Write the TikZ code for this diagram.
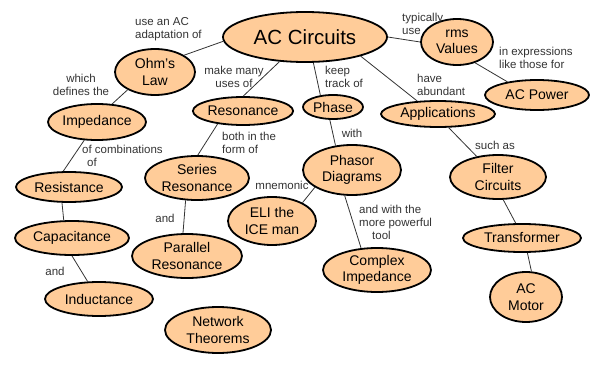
\documentclass[tikz,border=0pt]{standalone}
\usepackage{fontspec}
\setmainfont{Liberation Sans}
\usetikzlibrary{shapes.geometric}
\definecolor{conceptfill}{HTML}{FFCC99}
\definecolor{linkgray}{HTML}{333333}
\begin{document}
\begin{tikzpicture}[x=1pt,y=-1pt,
  concept/.style args={#1/#2}{ellipse, draw=black, line width=1.8pt,
    fill=conceptfill, inner sep=0pt, minimum width=#1pt, minimum height=#2pt,
    align=center, font=\fontsize{14}{16.5}\selectfont},
  linktext/.style={text=linkgray, inner sep=0pt,
    font=\fontsize{11.5}{13}\selectfont},
  leftlink/.style={linktext, anchor=west, align=left},
  midlink/.style={linktext, align=center},
  conn/.style={draw=linkgray, line width=0.8pt}]
\useasboundingbox (0,0) rectangle (602,369);

% concepts
\node[concept=164/50, font=\fontsize{20.5}{24}\selectfont] (ac) at (305,37) {AC Circuits};
\node[concept=80/46] (ohm) at (155,72) {Ohm's\\Law};
\node[concept=94/36] (imp) at (97,122) {Impedance};
\node[concept=94/28] (res) at (243,111) {Resonance};
\node[concept=60/24] (phase) at (333,107) {Phase};
\node[concept=114/26] (app) at (438,114) {Applications};
\node[concept=72/46] (rms) at (457,42) {rms\\Values};
\node[concept=104/30] (pow) at (537,95) {AC Power};
\node[concept=98/50] (phasor) at (352,170) {Phasor\\Diagrams};
\node[concept=96/44] (filter) at (498,177) {Filter\\Circuits};
\node[concept=106/30] (resist) at (69,187) {Resistance};
\node[concept=104/44] (series) at (197,178) {Series\\Resonance};
\node[concept=88/48] (eli) at (272,221) {ELI the\\ICE man};
\node[concept=114/34] (cap) at (72,238) {Capacitance};
\node[concept=110/44] (par) at (187,256) {Parallel\\Resonance};
\node[concept=108/34] (ind) at (99,299) {Inductance};
\node[concept=106/46] (net) at (218,330) {Network\\Theorems};
\node[concept=108/44] (cplx) at (377,270) {Complex\\Impedance};
\node[concept=118/28] (trans) at (522,238) {Transformer};
\node[concept=72/50] (motor) at (526,297) {AC\\Motor};

% linking phrases
\node[leftlink] (l-ohm) at (135,29) {use an AC\\adaptation of};
\node[midlink] (l-res) at (234,77) {make many\\uses of};
\node[leftlink] (l-phase) at (325,77) {keep\\track of};
\node[leftlink] (l-app) at (417,85) {have\\abundant};
\node[leftlink] (l-rms) at (402,24) {typically\\use};
\node[leftlink] (l-pow) at (499,58) {in expressions\\like those for};
\node[midlink] (l-imp) at (81,85) {which\\defines the};
\node[leftlink] (l-resist) at (82,156) {of combinations\\\hspace*{5pt}of};
\node[linktext] (l-ind) at (55,271) {and};
\node[leftlink] (l-series) at (222,143) {both in the\\form of};
\node[linktext] (l-par) at (165,218) {and};
\node[linktext] (l-phasor) at (352,133) {with};
\node[linktext] (l-eli) at (282,185) {mnemonic};
\node[leftlink] (l-cplx) at (359,222) {and with the\\more powerful\\\hspace*{13pt}tool};
\node[linktext] (l-filter) at (495,145) {such as};

% connectors
\path[conn] (ac.183) -- (ohm.30);
\path[conn] (ac.224) -- (res.89);
\path[conn] (ac.288) -- (phase.137);
\path[conn] (ac.341) -- (app.148);
\path[conn] (ac.0) -- (rms.180);
\path[conn] (rms.311) -- (pow.156);
\path[conn] (ohm.213) -- (imp.50);
\path[conn] (imp.235) -- (resist.110);
\path[conn] (resist.246) -- (cap.115);
\path[conn] (cap.270) -- (ind.123);
\path[conn] (res.207) -- (series.88);
\path[conn] (series.243) -- (par.100);
\path[conn] (phase.256) -- (phasor.124);
\path[conn] (phasor.205) -- (eli.31);
\path[conn] (phasor.254) -- (cplx.126);
\path[conn] (app.308) -- (filter.136);
\path[conn] (filter.283) -- (trans.113);
\path[conn] (trans.290) -- (motor.78);
\end{tikzpicture}
\end{document}
